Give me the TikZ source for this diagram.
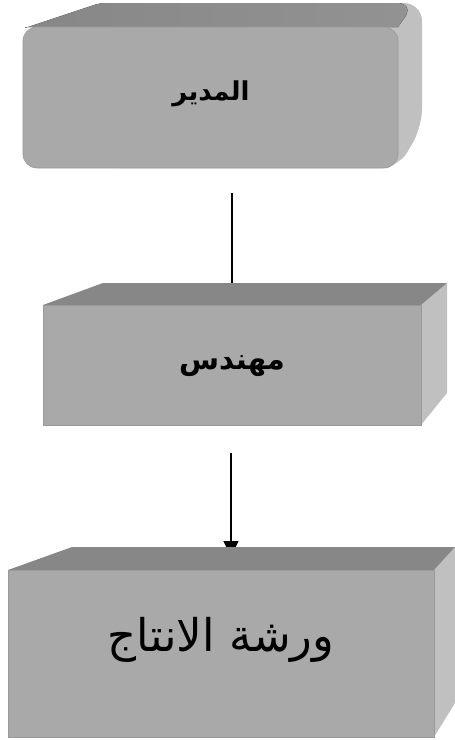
\documentclass[tikz,border=0pt]{standalone}
\usepackage{fontspec}
\usetikzlibrary{arrows.meta}
\TeXXeTstate=1
\newfontfamily\arabicfont[Script=Arabic]{DejaVu Sans}
\definecolor{frontc}{HTML}{A9A9A9}
\definecolor{topc}{HTML}{878787}
\definecolor{sidec}{HTML}{C0C0C0}
\definecolor{edgec}{HTML}{999999}
\tikzset{
  conn/.style={line width=1.8pt, black},
  topface/.style={fill=topc},
  sideface/.style={fill=sidec},
  frontface/.style={fill=frontc, draw=edgec, line width=0.6pt},
  lbl/.style={inner sep=0pt, text=black}
}
\begin{document}
\begin{tikzpicture}[x=1pt,y=-1pt]
\useasboundingbox (0,0) rectangle (455,740);
% connectors (drawn first, boxes cover ends)
\coordinate (c1a) at (232,193);
\coordinate (c1b) at (232,290);
\coordinate (c2a) at (231,453);
\coordinate (c2b) at (231,556);
\draw[conn] (c1a) -- (c1b);
\draw[conn, -{Triangle[width=15pt,length=15pt]}] (c2a) -- (c2b);
% box 1 (rounded)
\fill[sideface, rounded corners=18] (100,27) -- (100,3) -- (422,3) -- (422,127) -- (398,168) -- (100,168) -- cycle;
\fill[left color=topc, right color=topc!80!sidec] (25,28) [rounded corners=6] -- (100,3) [rounded corners=18] -- (415,3) [sharp corners] -- (398,27) -- (25,27) -- cycle;
\path[frontface, rounded corners=14] (23,27) rectangle (398,168);
\node[lbl] (mgr) at (211,94) {\arabicfont\bfseries\fontsize{26}{30}\selectfont\beginR المدير\endR};
% box 2
\fill[sideface] (421,305) -- (447,283) -- (447,393) -- (421,425) -- cycle;
\fill[topface] (43,305) -- (103,283) -- (447,283) -- (421,305) -- cycle;
\path[frontface] (43,305) rectangle (421,425);
\node[lbl] (eng) at (232,366) {\arabicfont\bfseries\fontsize{29}{34}\selectfont\beginR مهندس\endR};
% box 3
\fill[sideface] (434,570) -- (455,547) -- (455,703) -- (434,737) -- cycle;
\fill[topface] (8,570) -- (72,547) -- (455,547) -- (434,570) -- cycle;
\path[frontface] (8,570) rectangle (434,737);
\node[lbl] (shop) at (221,640) {\arabicfont\fontsize{45}{52}\selectfont\beginR ورشة الانتاج\endR};
\end{tikzpicture}
\end{document}
